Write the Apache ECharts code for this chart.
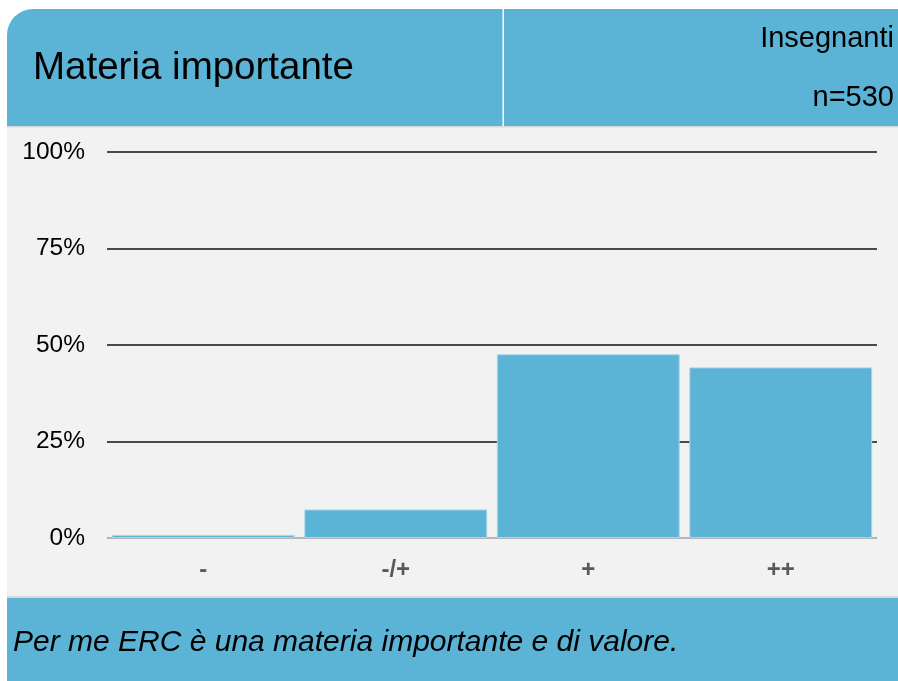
<!DOCTYPE html>
<html>
<head>
<meta charset="utf-8">
<script src="https://cdn.jsdelivr.net/npm/echarts@6/dist/echarts.min.js"></script>
<style>
  html, body { margin: 0; padding: 0; background: #ffffff; }
  #chart { width: 898px; height: 681px; }
</style>
</head>
<body>
<div id="chart"></div>
<script>
const categories = ['-', '-/+', '+', '++'];
const values = [0.8, 7.4, 47.6, 44.2];
const yTicks = [0, 25, 50, 75, 100];

const blue = '#5bb3d6';
const font = 'Liberation Sans, Arial, sans-serif';
const chart = echarts.init(document.getElementById('chart'));

const option = {
  animation: false,
  backgroundColor: '#ffffff',
  textStyle: { fontFamily: font },
  grid: { left: 107, right: 21, top: 152, bottom: 143 },
  graphic: [
    { type: 'rect', z: -10, shape: { x: 7, y: 126, width: 891, height: 472 },
      style: { fill: '#f2f2f2' } },
    { type: 'rect', z: -9, shape: { x: 7, y: 9, width: 891, height: 117, r: [26, 0, 0, 0] },
      style: { fill: blue } },
    { type: 'rect', z: -9, shape: { x: 7, y: 126, width: 891, height: 1.5 },
      style: { fill: '#d9d9d9' } },
    { type: 'rect', z: -9, shape: { x: 502.5, y: 9, width: 1.5, height: 117 },
      style: { fill: '#ffffff' } },
    { type: 'rect', z: -9, shape: { x: 7, y: 596, width: 891, height: 2 },
      style: { fill: '#d9d9d9' } },
    { type: 'rect', z: -9, shape: { x: 7, y: 598, width: 891, height: 83 },
      style: { fill: blue } },
    { type: 'text',
      style: { x: 33, y: 68, text: 'Materia importante', fontSize: 38.5, fill: '#000000',
        verticalAlign: 'middle', fontFamily: font } },
    { type: 'text',
      style: { x: 894, y: 38.5, text: 'Insegnanti', fontSize: 29, fill: '#000000',
        align: 'right', verticalAlign: 'middle', fontFamily: font } },
    { type: 'text',
      style: { x: 894, y: 97.5, text: 'n=530', fontSize: 29, fill: '#000000',
        align: 'right', verticalAlign: 'middle', fontFamily: font } },
    { type: 'text',
      style: { x: 13, y: 643, text: 'Per me ERC è una materia importante e di valore.', fontSize: 30,
        fontStyle: 'italic', fill: '#000000', verticalAlign: 'middle', fontFamily: font } }
  ],
  xAxis: {
    type: 'category',
    data: categories,
    axisLine: { lineStyle: { color: '#d9d9d9', width: 1.5 } },
    axisTick: { show: false },
    axisLabel: { color: '#595959', fontSize: 24, fontWeight: 'bold', margin: 20 }
  },
  yAxis: {
    type: 'value',
    min: 0,
    max: 100,
    interval: 25,
    axisLine: { show: false },
    axisTick: { show: false },
    axisLabel: {
      color: '#000000', fontSize: 24.5, margin: 22,
      formatter: (v) => (yTicks.includes(v) ? v + '%' : '')
    },
    splitLine: { lineStyle: { color: '#111111', width: 1.5 } }
  },
  series: [{
    type: 'bar',
    data: values,
    barCategoryGap: '5%',
    itemStyle: { color: blue, borderColor: '#a9d6ea', borderWidth: 1 }
  }]
};

chart.setOption(option);
</script>
</body>
</html>
